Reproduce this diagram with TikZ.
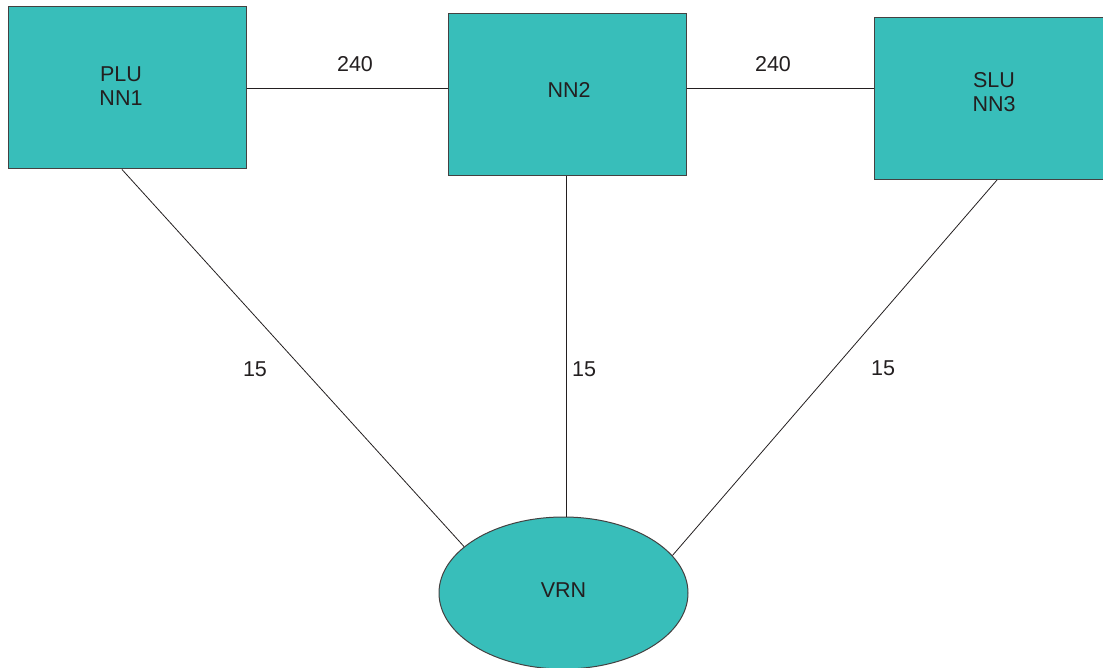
\documentclass[tikz,border=0pt]{standalone}
\usepackage{fontspec}
\setmainfont{Liberation Sans}
\usetikzlibrary{shapes.geometric,calc}
\definecolor{teal1}{HTML}{38BEBA}
\definecolor{ink}{HTML}{231F20}
\begin{document}
\begin{tikzpicture}[x=1pt,y=-1pt,
  box/.style={draw=ink!85,line width=1pt,fill=teal1,minimum width=238pt,minimum height=162pt,inner sep=0pt},
  oval/.style={ellipse,draw=ink!85,line width=1pt,fill=teal1,minimum width=249pt,minimum height=152pt,inner sep=0pt},
  txt/.style={font=\fontsize{21.5}{24.3}\selectfont,text=ink,align=center,inner sep=0pt},
  lbl/.style={font=\fontsize{21.5}{24.3}\selectfont,text=ink,inner sep=0pt},
  link/.style={draw=ink,line width=0.8pt}]
\useasboundingbox (0,0) rectangle (1103,668);
\node[box] (b1) at (127,88) {};
\node[box] (b2) at (567,95) {};
\node[box] (b3) at (993,98.5) {};
\node[oval] (vrn) at (563.5,593) {};
\node[txt] (t1) at (121,86) {PLU\\NN1};
\node[txt] (t2) at (569,90) {NN2};
\node[txt] (t3) at (994,92) {SLU\\NN3};
\node[txt] (t4) at (563.5,590.5) {VRN};
\draw[link] (b1.east) -- (b2.west |- b1.east);
\draw[link] (b2.east |- b1.east) -- (b3.west |- b1.east);
\draw[link] ([xshift=-5pt]b1.south) -- (vrn.155);
\draw[link] ([xshift=-1pt]b2.south) -- ([xshift=-1pt]b2.south |- vrn.north);
\draw[link] ([xshift=4pt]b3.south) -- (vrn.19);
\node[lbl] (l1) at (355,64) {240};
\node[lbl] (l2) at (773,64) {240};
\node[lbl] (l3) at (255,369) {15};
\node[lbl] (l4) at (584,369) {15};
\node[lbl] (l5) at (883,368) {15};
\end{tikzpicture}
\end{document}
